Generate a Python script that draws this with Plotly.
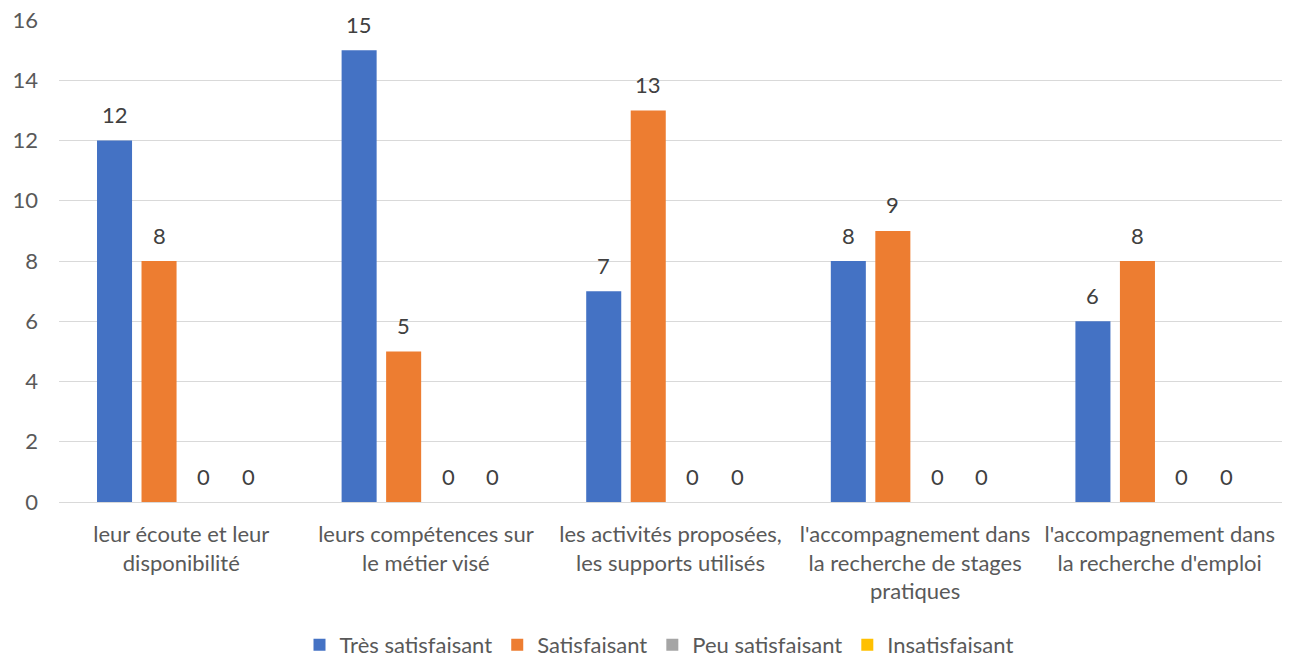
import plotly.graph_objects as go

categories = [
    "leur écoute et leur<br>disponibilité",
    "leurs compétences sur<br>le métier visé",
    "les activités proposées,<br>les supports utilisés",
    "l'accompagnement dans<br>la recherche de stages<br>pratiques",
    "l'accompagnement dans<br>la recherche d'emploi",
]
series_names = ["Très satisfaisant", "Satisfaisant", "Peu satisfaisant", "Insatisfaisant"]
tres_satisfaisant = [12, 15, 7, 8, 6]
satisfaisant = [8, 5, 13, 9, 8]
peu_satisfaisant = [0, 0, 0, 0, 0]
insatisfaisant = [0, 0, 0, 0, 0]
colors = ["#4472C4", "#ED7D31", "#A5A5A5", "#FFC000"]
y_ticks = [0, 2, 4, 6, 8, 10, 12, 14, 16]

FONT = "Lato"
TXT = "#595959"
FS = 22
# page body has an 8px margin, so the figure is drawn 8px in from the top-left
W, H = 1287, 650
ML, MR, MT, MB = 51, 13, 12, 156
BARGAP, BARGROUPGAP = 0.272, 0.213

series = [tres_satisfaisant, satisfaisant, peu_satisfaisant, insatisfaisant]

fig = go.Figure()
for k, (name, vals, col) in enumerate(zip(series_names, series, colors)):
    fig.add_trace(go.Bar(
        x=categories, y=vals, name=name, marker_color=col,
        marker_line_width=0, cliponaxis=False, legendgroup=f"g{k}",
    ))

# data labels above bars (annotations positioned at each bar's data value)
cat_px = (W - ML - MR) / len(categories)
slot_px = cat_px * (1 - BARGAP) / len(series)
annotations = []
for i, vals in enumerate(series):
    xshift = (i - (len(series) - 1) / 2) * slot_px
    for cat, v in zip(categories, vals):
        annotations.append(dict(
            x=cat, y=v, xref="x", yref="y", text=str(v), showarrow=False,
            xshift=xshift, yshift=26, yanchor="middle",
            font=dict(family=FONT, size=FS, color="#404040"),
        ))

fig.update_layout(
    width=W, height=H,
    margin=dict(l=ML, r=MR, t=MT, b=MB),
    plot_bgcolor="white", paper_bgcolor="white",
    barmode="group", bargap=BARGAP, bargroupgap=BARGROUPGAP,
    font=dict(family=FONT, size=FS, color=TXT),
    showlegend=True,
    legend=dict(orientation="h", x=(659 - 8) / W, xanchor="center", xref="container",
                y=1 - (645 - 8) / H, yanchor="middle", yref="container",
                font=dict(family=FONT, size=FS, color=TXT), itemwidth=30,
                traceorder="normal", tracegroupgap=14, bgcolor="rgba(0,0,0,0)"),
    annotations=annotations,
    xaxis=dict(showgrid=False, ticks="", tickfont=dict(family=FONT, size=FS, color=TXT),
               showline=False, automargin=False, ticklabelstandoff=17),
    yaxis=dict(range=[0, 16], tickvals=y_ticks, showgrid=True, gridcolor="#D9D9D9",
               gridwidth=1.3, zeroline=True, zerolinecolor="#D9D9D9", zerolinewidth=1.3,
               ticks="", tickfont=dict(family=FONT, size=FS, color=TXT), ticklabelstandoff=20,
               ticklabeloverflow="allow", automargin=False),
)

fig.write_html("out.html")
